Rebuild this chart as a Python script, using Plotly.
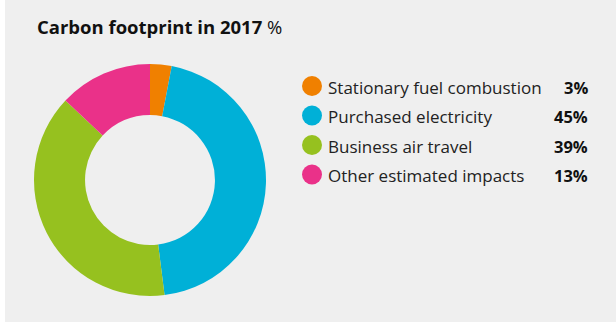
import plotly.graph_objects as go

categories = ["Stationary fuel combustion", "Purchased electricity", "Business air travel", "Other estimated impacts"]
values = [3, 45, 39, 13]
colors = ["#F08000", "#00B0D7", "#96C11F", "#EA3189"]
title_bold = "Carbon footprint in 2017"
title_unit = "%"

W, H = 616, 322
BG = "#EFEFEF"
FONT = "Open Sans, sans-serif"

fig = go.Figure()
fig.add_trace(go.Pie(
    labels=categories, values=values, sort=False, direction="clockwise", rotation=0,
    hole=0.56, textinfo="none", hoverinfo="label+percent",
    marker=dict(colors=colors, line=dict(width=0)),
    domain=dict(x=[34 / W, 266 / W], y=[26 / H, 258 / H]),
    showlegend=False,
))

shapes = [dict(type="rect", xref="paper", yref="paper", x0=5 / W, x1=1, y0=0, y1=1,
               fillcolor=BG, line=dict(width=0), layer="below")]
annotations = [dict(text=f"<b>{title_bold}</b> {title_unit}", xref="paper", yref="paper",
                    x=35 / W, y=1 - 27 / H, xanchor="left", yanchor="middle", showarrow=False,
                    font=dict(family=FONT, size=18.5, color="#111111"))]

row0, step = 86, 29.5
for i, (c, v, col) in enumerate(zip(categories, values, colors)):
    yc = row0 + i * step
    shapes.append(dict(type="circle", xref="paper", yref="paper",
                       x0=302 / W, x1=322 / W, y0=1 - (yc + 10) / H, y1=1 - (yc - 10) / H,
                       fillcolor=col, line=dict(width=0)))
    annotations.append(dict(text=c, xref="paper", yref="paper", x=326 / W, y=1 - (yc + 1) / H,
                            xanchor="left", yanchor="middle", showarrow=False,
                            font=dict(family=FONT, size=17, color="#222222")))
    annotations.append(dict(text=f"<b>{v}%</b>", xref="paper", yref="paper", x=590 / W, y=1 - (yc + 1) / H,
                            xanchor="right", yanchor="middle", showarrow=False,
                            font=dict(family=FONT, size=16.5, color="#111111")))

fig.update_layout(width=W, height=H, margin=dict(l=0, r=0, t=0, b=0),
                  paper_bgcolor="white", plot_bgcolor=BG,
                  shapes=shapes, annotations=annotations)
fig.write_html("out.html", config={"displayModeBar": False},
               post_script="document.body.style.margin='0';document.body.style.overflow='hidden';")
